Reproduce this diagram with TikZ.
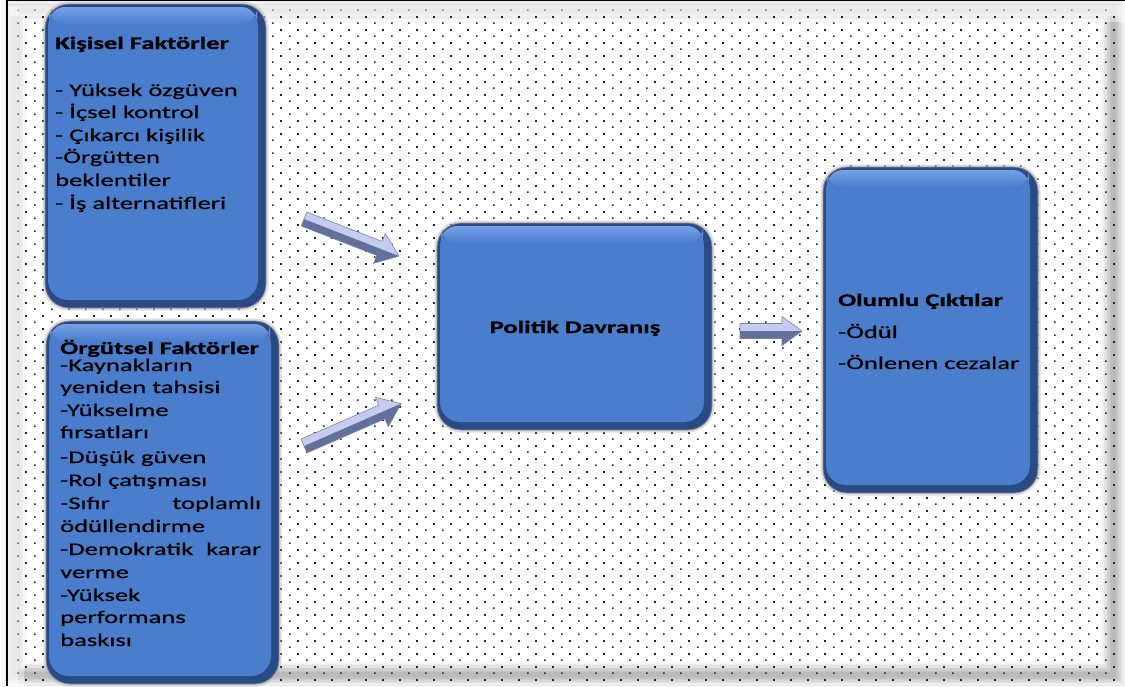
\documentclass[tikz,border=0pt]{standalone}
\usepackage{fontspec}
\setmainfont{Carlito}[FakeStretch=1.5, UprightFeatures={FakeBold=0.5}, BoldFeatures={FakeBold=0.8}]
\usetikzlibrary{patterns.meta}
\definecolor{boxblue}{RGB}{74,126,205}
\definecolor{boxdark}{RGB}{42,74,132}
\definecolor{boxlight}{RGB}{118,160,230}
\definecolor{arrlight}{RGB}{196,205,240}
\definecolor{arrdark}{RGB}{100,112,156}
\definecolor{arredge}{RGB}{120,130,172}
\tikzdeclarepattern{
  name=pdots, type=uncolored,
  bounding box={(0pt,0pt) and (16.67pt,12.7pt)},
  tile size={(16.67pt,12.7pt)},
  code={\fill (0pt,0pt) rectangle (1.7pt,1.7pt);
        \fill (8.33pt,6.35pt) rectangle (10.03pt,8.05pt);}}
\begin{document}
\begin{tikzpicture}[x=1pt,y=-1pt,
  lbl/.style={inner sep=0pt, anchor=base west, font=\fontsize{17.7}{22}\selectfont, text=black},
  ttl/.style={lbl, font=\fontsize{17.7}{22}\selectfont\bfseries},
  bbox/.style={rectangle, rounded corners=24pt, inner sep=0pt, fill=boxdark,
    draw=black!45, line width=0.8pt,
    preaction={draw=black!30, line width=5pt, opacity=.45},
    path picture={
      \fill[boxblue, rounded corners=20pt]
        ([xshift=3pt,yshift=-3pt]path picture bounding box.north west) rectangle
        ([xshift=-8pt,yshift=8pt]path picture bounding box.south east);
      \shade[top color=boxlight, bottom color=boxblue, rounded corners=16pt]
        ([xshift=4pt,yshift=-3pt]path picture bounding box.north west) rectangle
        ([xshift=-9pt,yshift=-20pt]path picture bounding box.north east);
    }},
  arrlt/.style={fill=arrlight},
  arrdk/.style={fill=arrdark},
  arrln/.style={draw=arredge, line width=0.6pt, line join=round},
]
\useasboundingbox (0,0) rectangle (1125,686);
\fill[white] (0,0) rectangle (1125,686);
% soft panel glow
\foreach \w/\o in {26/.03,18/.04,12/.04,6/.05}
  \draw[black, opacity=\o, line width=\w pt] (14,10) rectangle (1113,674);
\foreach \w/\o in {22/.04,14/.05,7/.05}
  \draw[black, opacity=\o, line width=\w pt] (1114,22) -- (1114,675) -- (24,675);
% dotted panel
\fill[pattern=pdots, pattern color=black!85] (10,8) rectangle (1121,683);
\fill[white, opacity=.45] (10,6) rectangle (1121,16);
\fill[white, opacity=.45] (8,6) rectangle (18,683);
% frame lines
\draw[black, line width=1.3pt] (7,686) -- (7,0.7) -- (1125,0.7);

% boxes
\node[bbox, minimum width=221pt, minimum height=304pt] (kisisel) at (155.5,156) {};
\node[bbox, minimum width=233pt, minimum height=363pt] (orgutsel) at (162.5,502.5) {};
\node[bbox, minimum width=275pt, minimum height=207pt] (politik) at (574.5,326.5) {};
\node[bbox, minimum width=215pt, minimum height=326pt] (olumlu) at (930.5,330) {};

% box 1 text
\node[ttl] (kt) at (55,49) {Kişisel Faktörler};
\foreach \y/\t [count=\i] in {96/{- Yüksek özgüven}, 118/{- İçsel kontrol},
   141/{- Çıkarcı kişilik}, 163/{-Örgütten}, 186/{beklentiler}, 209/{- İş alternatifleri}}
  \node[lbl] (k\i) at (55,\y) {\t};

% box 2 text
\node[ttl] (ot) at (60,354) {Örgütsel Faktörler};
\foreach \y/\t [count=\i] in {371/{-Kaynakların}, 393/{yeniden tahsisi}, 416/{-Yükselme},
   438/{fırsatları}, 463/{-Düşük güven}, 486/{-Rol çatışması},
   509/{\makebox[201pt][s]{-Sıfır toplamlı}}, 532/{ödüllendirme},
   555/{\makebox[201pt][s]{-Demokratik karar}}, 578/{verme}, 601/{-Yüksek},
   623/{performans}, 646/{baskısı}}
  \node[lbl] (o\i) at (60,\y) {\t};

% box 3 text
\node[ttl, anchor=base] (pt) at (575,333) {Politik Davranış};

% box 4 text
\node[ttl] (ut) at (838,306) {Olumlu Çıktılar};
\node[lbl] (u1) at (838,338) {-Ödül};
\node[lbl] (u2) at (838,369) {-Önlenen cezalar};

% block arrows
\coordinate (a1t) at (304,219);
\coordinate (a2t) at (304,446);
\coordinate (a3t) at (740,331);
\begin{scope}[shift={(a1t)}, rotate=-21.3]
  \def\L{102}\def\s{7.5}\def\H{16}\def\h{21}
  \path[arrlt] (0,-\s) -- (\L-\h,-\s) -- (\L-\h,-\H) -- (\L,0) -- (0,0) -- cycle;
  \path[arrdk] (0,\s) -- (\L-\h,\s) -- (\L-\h,\H) -- (\L,0) -- (0,0) -- cycle;
  \path[arrln] (0,-\s) -- (\L-\h,-\s) -- (\L-\h,-\H) -- (\L,0) -- (\L-\h,\H) -- (\L-\h,\s) -- (0,\s) -- cycle;
  \coordinate (a1h) at (\L,0);
\end{scope}
\begin{scope}[shift={(a2t)}, rotate=23.6]
  \def\L{106}\def\s{7.5}\def\H{16}\def\h{21}
  \path[arrlt] (0,-\s) -- (\L-\h,-\s) -- (\L-\h,-\H) -- (\L,0) -- (0,0) -- cycle;
  \path[arrdk] (0,\s) -- (\L-\h,\s) -- (\L-\h,\H) -- (\L,0) -- (0,0) -- cycle;
  \path[arrln] (0,-\s) -- (\L-\h,-\s) -- (\L-\h,-\H) -- (\L,0) -- (\L-\h,\H) -- (\L-\h,\s) -- (0,\s) -- cycle;
  \coordinate (a2h) at (\L,0);
\end{scope}
\begin{scope}[shift={(a3t)}]
  \def\L{62}\def\s{7.5}\def\H{14.5}\def\h{20}
  \path[arrlt] (0,-\s) -- (\L-\h,-\s) -- (\L-\h,-\H) -- (\L,0) -- (0,0) -- cycle;
  \path[arrdk] (0,\s) -- (\L-\h,\s) -- (\L-\h,\H) -- (\L,0) -- (0,0) -- cycle;
  \path[arrln] (0,-\s) -- (\L-\h,-\s) -- (\L-\h,-\H) -- (\L,0) -- (\L-\h,\H) -- (\L-\h,\s) -- (0,\s) -- cycle;
  \coordinate (a3h) at (\L,0);
\end{scope}
\end{tikzpicture}
\end{document}
